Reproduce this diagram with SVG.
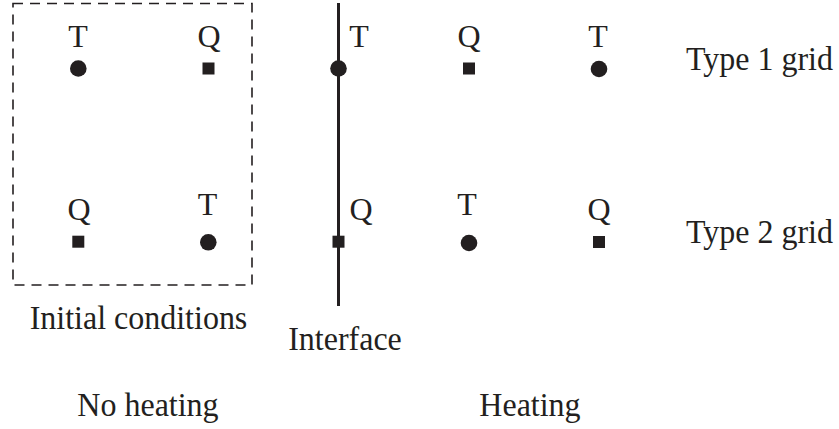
<svg xmlns="http://www.w3.org/2000/svg" width="839" height="429" viewBox="0 0 839 429">
<style>
text{font-family:"Liberation Serif","Times New Roman",serif;font-size:32px;fill:#231f20;text-anchor:middle}
.lab{text-anchor:start}
.dot{fill:#231f20}
.sq{fill:#231f20}
</style>
<rect width="839" height="429" fill="#fff"/>
<g id="initial-box">
<rect x="13" y="3.5" width="239" height="281.5" fill="none" stroke="#231f20" stroke-width="1.6" stroke-dasharray="10 7"/>
<text x="138.5" y="0" transform="translate(0,329) scale(1,1.07)">Initial conditions</text>
</g>
<g id="connectors">
<line x1="338.5" y1="3" x2="338.5" y2="306" stroke="#231f20" stroke-width="3"/>
</g>
<g id="interface-label"><text x="345" y="0" transform="translate(0,350) scale(1,1.05)">Interface</text></g>
<g id="n-l1-t"><text x="78" y="47">T</text><circle class="dot" cx="78.3" cy="68.5" r="8.3"/></g>
<g id="n-l1-q"><text x="209" y="47">Q</text><rect class="sq" x="202.5" y="62.5" width="12" height="12"/></g>
<g id="n-l2-q"><text x="79" y="220">Q</text><rect class="sq" x="72.3" y="235.7" width="12" height="12"/></g>
<g id="n-l2-t"><text x="207.5" y="215">T</text><circle class="dot" cx="208.3" cy="242.3" r="8.3"/></g>
<g id="n-i1-t"><text x="359" y="47">T</text><circle class="dot" cx="338.5" cy="68.5" r="8.3"/></g>
<g id="n-i2-q"><text x="361" y="220">Q</text><rect class="sq" x="332.5" y="235.7" width="12" height="12"/></g>
<g id="n-r1-q"><text x="469" y="47">Q</text><rect class="sq" x="463" y="62.5" width="12" height="12"/></g>
<g id="n-r1-t"><text x="598" y="47">T</text><circle class="dot" cx="599" cy="69" r="8.3"/></g>
<g id="n-r2-t"><text x="467" y="215">T</text><circle class="dot" cx="469" cy="243" r="8.3"/></g>
<g id="n-r2-q"><text x="599" y="220">Q</text><rect class="sq" x="593" y="236" width="12" height="12"/></g>
<g id="type1"><text class="lab" x="686" y="0" transform="translate(0,70) scale(1,1.07)">Type 1 grid</text></g>
<g id="type2"><text class="lab" x="686" y="0" transform="translate(0,243) scale(1,1.07)">Type 2 grid</text></g>
<g id="no-heating"><text x="148" y="0" transform="translate(0,416) scale(1,1.05)">No heating</text></g>
<g id="heating"><text x="530" y="0" transform="translate(0,416) scale(1,1.05)">Heating</text></g>
</svg>
